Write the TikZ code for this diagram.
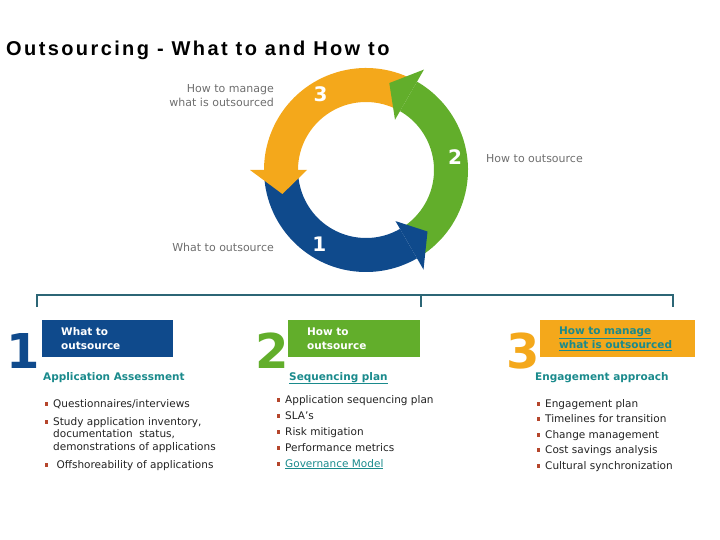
\documentclass[tikz,border=0pt]{standalone}
\usepackage{fontspec}
\setmainfont{DejaVu Sans}
\newfontfamily\titlefont[LetterSpace=12]{Liberation Sans}
\usepackage{tikz}
\usetikzlibrary{positioning, calc}

\definecolor{ringorange}{HTML}{F4A81B}
\definecolor{ringgreen}{HTML}{62AE2B}
\definecolor{ringblue}{HTML}{0F4A8C}
\definecolor{headteal}{HTML}{1A8A8C}
\definecolor{labelgray}{HTML}{6E6E6E}
\definecolor{bracketteal}{HTML}{2C6676}
\definecolor{bulletred}{HTML}{B5462C}
\definecolor{bodytext}{HTML}{222222}

\newcommand{\bul}{\textcolor{bulletred}{\rule[0.25ex]{3pt}{3.5pt}}\hspace{5pt}}

\tikzset{
    ringlabel/.style={inner sep=0pt, font=\fontsize{11}{14}\selectfont, text=labelgray},
    ringnum/.style={inner sep=0pt, font=\fontsize{20}{20}\selectfont\bfseries, text=white},
    bignum/.style={anchor=base west, inner sep=0pt, font=\fontsize{48}{48}\selectfont\bfseries},
    stepbox/.style={rectangle, anchor=north west, minimum height=37pt, inner xsep=19pt, inner ysep=0pt, align=left, font=\fontsize{10.5}{14}\selectfont\bfseries},
    heading/.style={anchor=base west, inner sep=0pt, font=\fontsize{10.5}{13}\selectfont\bfseries, text=headteal},
    item/.style={anchor=base west, inner sep=0pt, font=\fontsize{10.5}{13}\selectfont, text=bodytext},
    bracket/.style={draw=bracketteal, line width=1.3pt}
}

\begin{document}
\begin{tikzpicture}[x=1pt, y=-1pt]
    \useasboundingbox (0,0) rectangle (720,540);

    % Title
    \node[anchor=base west, inner sep=0pt, font=\titlefont\fontsize{20}{20}\selectfont\bfseries] (title) at (6,56) {Outsourcing - What to and How to};

    % Cycle of three arrows
    \begin{scope}[shift={(366,170)}]
        % bodies
        \fill[ringorange] (-62:102) arc[start angle=-62, end angle=-180, radius=102] -- (-180:68) arc[start angle=-180, end angle=-62, radius=68] -- cycle;
        \fill[ringblue] (178:102) arc[start angle=178, end angle=60, radius=102] -- (60:68) arc[start angle=60, end angle=178, radius=68] -- cycle;
        \fill[ringgreen] (58:102) arc[start angle=58, end angle=-60, radius=102] -- (-60:68) arc[start angle=-60, end angle=58, radius=68] -- cycle;
        % heads
        \fill[ringorange] (180:59) -- (164:87) -- (180:116) -- cycle;
        \fill[ringblue] (60:59) -- (45:87) -- (60:115) -- cycle;
        \fill[ringgreen] (-60:58) -- (-75:90) -- (-60:116) -- cycle;
        % numbers
        \node[ringnum] (num3) at (-121:88) {3};
        \node[ringnum] (num2) at (-8:90) {2};
        \node[ringnum] (num1) at (122:88) {1};
    \end{scope}

    % Labels round the cycle
    \node[ringlabel, anchor=east, align=right] (lblmanage) at (274,96) {How to manage\\what is outsourced};
    \node[ringlabel, anchor=west] (lblhow) at (486,159) {How to outsource};
    \node[ringlabel, anchor=east] (lblwhat) at (274,247) {What to outsource};

    % Bracket
    \coordinate (brL) at (37,295);
    \coordinate (brM) at (421,295);
    \coordinate (brR) at (673,295);
    \coordinate (brLd) at (37,307);
    \coordinate (brMd) at (421,307);
    \coordinate (brRd) at (673,307);
    \draw[bracket] (brLd) -- (brL) -- (brR) -- (brRd);
    \draw[bracket] (brM) -- (brMd);

    % Step 1
    \node[bignum, text=ringblue] (big1) at (6,368) {1};
    \node[stepbox, fill=ringblue, text=white, text width=93pt] (box1) at (42,320) {What to\\outsource};
    \node[heading] (head1) at (43,380) {Application Assessment};
    \node[item] (it11) at (45,407) {\bul Questionnaires/interviews};
    \node[item] (it12) at (45,425) {\bul Study application inventory,};
    \node[item] (it12b) at (53,437) {documentation\ \ status,};
    \node[item] (it12c) at (53,450) {demonstrations of applications};
    \node[item] (it13) at (45,468) {\bul\ Offshoreability of applications};

    % Step 2
    \node[bignum, text=ringgreen] (big2) at (255,368) {2};
    \node[stepbox, fill=ringgreen, text=white, text width=94pt] (box2) at (288,320) {How to\\outsource};
    \node[heading] (head2) at (289,380) {\underline{Sequencing plan}};
    \node[item] (it21) at (277,403) {\bul Application sequencing plan};
    \node[item] (it22) at (277,419) {\bul SLA’s};
    \node[item] (it23) at (277,435) {\bul Risk mitigation};
    \node[item] (it24) at (277,451) {\bul Performance metrics};
    \node[item] (it25) at (277,467) {\bul \textcolor{headteal}{\underline{Governance Model}}};

    % Step 3
    \node[bignum, text=ringorange] (big3) at (506,368) {3};
    \node[stepbox, fill=ringorange, text=headteal, text width=117pt] (box3) at (540,320) {\underline{How to manage}\\\underline{what is outsourced}};
    \node[heading] (head3) at (535,380) {Engagement approach};
    \node[item] (it31) at (537,407) {\bul Engagement plan};
    \node[item] (it32) at (537,422) {\bul Timelines for transition};
    \node[item] (it33) at (537,438) {\bul Change management};
    \node[item] (it34) at (537,453) {\bul Cost savings analysis};
    \node[item] (it35) at (537,469) {\bul Cultural synchronization};
\end{tikzpicture}
\end{document}
